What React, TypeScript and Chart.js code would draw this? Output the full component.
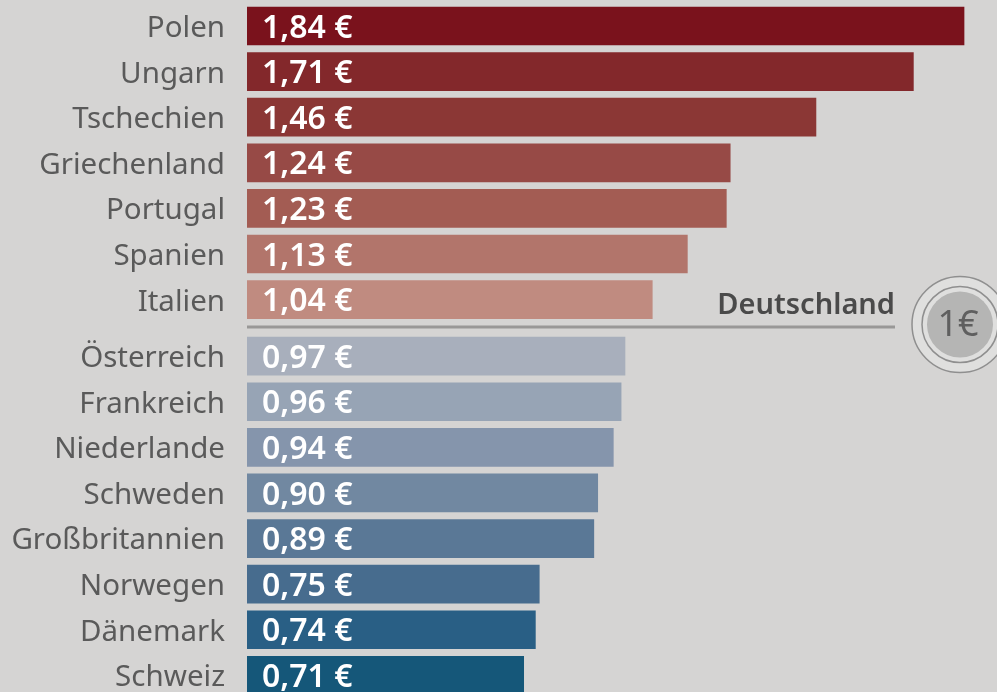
import React, { useEffect, useRef } from "react";
import { Chart, registerables } from "chart.js";

Chart.register(...registerables);

const upperCountries = ["Polen", "Ungarn", "Tschechien", "Griechenland", "Portugal", "Spanien", "Italien"];
const lowerCountries = ["Österreich", "Frankreich", "Niederlande", "Schweden", "Großbritannien", "Norwegen", "Dänemark", "Schweiz"];
const upperValues = [1.84, 1.71, 1.46, 1.24, 1.23, 1.13, 1.04];
const lowerValues = [0.97, 0.96, 0.94, 0.9, 0.89, 0.75, 0.74, 0.71];
const upperColors = ["#7a121c", "#83282b", "#8b3735", "#974a46", "#a35c53", "#b2756b", "#c08b80"];
const lowerColors = ["#a8afbc", "#97a4b5", "#8595ac", "#7188a1", "#5a7896", "#476c8e", "#295f85", "#155779"];
const GROUP_GAP = 0.24;

const BG = "#d5d4d3";
const FONT = '"Noto Sans", sans-serif';

const countries = [...upperCountries, ...lowerCountries];
const values = [...upperValues, ...lowerValues];
const colors = [...upperColors, ...lowerColors];
const rows = countries.map((_, i) => (i < upperCountries.length ? i : i + GROUP_GAP));
const euro = (v: number) => v.toFixed(2).replace(".", ",") + " €";

const overlay = {
  id: "overlay",
  afterDatasetsDraw(chart: any) {
    const { ctx } = chart;
    const xS = chart.scales.x;
    const yS = chart.scales.y;
    ctx.save();
    // value labels inside the bars
    ctx.font = `600 32px ${FONT}`;
    ctx.fillStyle = "#ffffff";
    ctx.textAlign = "left";
    ctx.textBaseline = "middle";
    values.forEach((v, i) => ctx.fillText(euro(v), xS.getPixelForValue(0) + 15, yS.getPixelForValue(rows[i]) + 2.5));
    // reference line and label
    ctx.strokeStyle = "#999897";
    ctx.lineWidth = 3;
    ctx.beginPath();
    ctx.moveTo(xS.getPixelForValue(0), 327);
    ctx.lineTo(895, 327);
    ctx.stroke();
    ctx.font = `600 29px ${FONT}`;
    ctx.fillStyle = "#4a4a4a";
    ctx.textAlign = "right";
    ctx.fillText("Deutschland", 895, 306);
    // 1 € badge
    const cx = 960, cy = 324.5;
    ctx.lineWidth = 1.5;
    ctx.strokeStyle = "#8f8f8f";
    ctx.fillStyle = "#dfdfde";
    ctx.beginPath(); ctx.arc(cx, cy, 48, 0, Math.PI * 2); ctx.fill(); ctx.stroke();
    ctx.beginPath(); ctx.arc(cx, cy, 38, 0, Math.PI * 2); ctx.stroke();
    ctx.fillStyle = "#b5b5b4";
    ctx.beginPath(); ctx.arc(cx, cy, 33, 0, Math.PI * 2); ctx.fill();
    ctx.font = `400 36px ${FONT}`;
    ctx.fillStyle = "#5f5f5f";
    ctx.textAlign = "center";
    ctx.fillText("1€", cx - 2, cy + 1);
    ctx.restore();
  },
};

export default function App() {
  const ref = useRef<HTMLCanvasElement>(null);
  useEffect(() => {
    document.body.style.margin = "0";
    document.body.style.background = BG;
    const chart = new Chart(ref.current!, {
      type: "bar",
      data: {
        datasets: [
          {
            data: values.map((v, i) => ({ x: v, y: rows[i] })),
            backgroundColor: colors,
            borderWidth: 0,
            barThickness: 38,
          },
        ],
      },
      options: {
        indexAxis: "y",
        animation: false,
        responsive: false,
        layout: { padding: 0 },
        plugins: { legend: { display: false }, tooltip: { enabled: false } },
        scales: {
          x: { type: "linear", display: false, min: 0, max: 1.9246 },
          y: {
            type: "linear",
            reverse: true,
            offset: false,
            min: -0.57,
            max: 14.605,
            grid: { display: false },
            border: { display: false },
            afterFit(scale: any) {
              scale.width = 247;
              scale.paddingTop = 0;
              scale.paddingBottom = 0;
            },
            afterBuildTicks(scale: any) {
              scale.ticks = rows.map((value) => ({ value }));
            },
            ticks: {
              autoSkip: false,
              padding: 14,
              labelOffset: 2.5,
              color: "#5a5a5a",
              font: { family: FONT, size: 29.5 },
              callback: (value: any) => countries[rows.indexOf(value)],
            },
          },
        },
      },
      plugins: [overlay],
    } as any);
    return () => chart.destroy();
  }, []);
  return (
    <div style={{ width: 997, height: 692, background: BG, overflow: "hidden" }}>
      <canvas ref={ref} width={997} height={692} style={{ display: "block", filter: "blur(0.6px)" }} />
    </div>
  );
}
